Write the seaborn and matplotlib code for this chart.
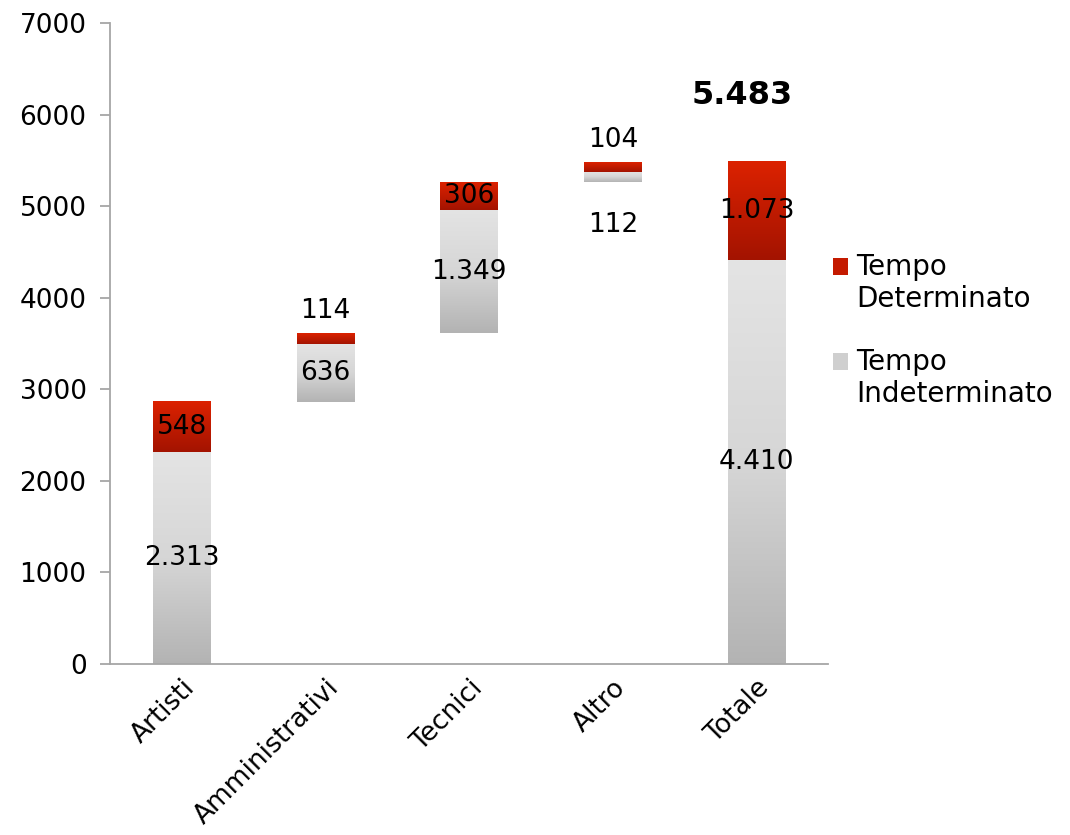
import numpy as np
import pandas as pd
import seaborn as sns
import matplotlib.pyplot as plt
from matplotlib.colors import LinearSegmentedColormap
from matplotlib.patches import Patch, Rectangle
from matplotlib.legend_handler import HandlerPatch

# dati: personale per categoria
categorie = ["Artisti", "Amministrativi", "Tecnici", "Altro", "Totale"]
indeterminato = [2313, 636, 1349, 112, 4410]
determinato = [548, 114, 306, 104, 1073]
etichette_ind = ["2.313", "636", "1.349", "112", "4.410"]
etichette_det = ["548", "114", "306", "104", "1.073"]
totale_label = "5.483"

# base a cascata (l'ultima colonna parte da zero)
base = [0]
for i in range(len(categorie) - 2):
    base.append(base[-1] + indeterminato[i] + determinato[i])
base.append(0)

df = pd.DataFrame({
    "categoria": categorie,
    "ind": indeterminato,
    "det": determinato,
    "base": base,
})
df["base_det"] = df["base"] + df["ind"]

sns.set_style("white")
plt.rcParams["font.family"] = ["DejaVu Sans"]
plt.rcParams["text.color"] = "black"
plt.rcParams["xtick.color"] = "black"
plt.rcParams["ytick.color"] = "black"

fig = plt.figure(figsize=(10.7, 8.35), dpi=100)
ax = fig.add_axes([0.103, 0.205, 0.671, 0.767])

sns.barplot(data=df, x="categoria", y="ind", bottom=df["base"].values,
            color="#cccccc", width=0.4, saturation=1, ax=ax)
sns.barplot(data=df, x="categoria", y="det", bottom=df["base_det"].values,
            color="#c01a00", width=0.4, saturation=1, ax=ax)

grey_cmap = LinearSegmentedColormap.from_list("g", ["#b3b3b3", "#d6d6d6", "#e4e4e4"])
red_cmap = LinearSegmentedColormap.from_list("r", ["#a31300", "#dc2200"])
grad = np.linspace(0, 1, 256).reshape(-1, 1)
n = len(categorie)
for i, p in enumerate(ax.patches):
    cmap = grey_cmap if i < n else red_cmap
    x0, y0 = p.get_x(), p.get_y()
    w, h = p.get_width(), p.get_height()
    ax.imshow(grad, cmap=cmap, origin="lower", aspect="auto",
              extent=[x0, x0 + w, y0, y0 + h], zorder=2)
    p.set_facecolor("none")
    p.set_edgecolor("none")

# etichette dei valori
fs = 19
for i in range(n):
    b, g, r = base[i], indeterminato[i], determinato[i]
    # grigio
    if g > 200:
        ax.text(i, b + g / 2, etichette_ind[i], ha="center", va="center", fontsize=fs, zorder=3)
    else:
        ax.annotate(etichette_ind[i], (i, b), xytext=(0, -31), textcoords="offset points",
                    ha="center", va="center", fontsize=fs, zorder=3)
    # rosso
    if r > 200:
        ax.text(i, b + g + r / 2, etichette_det[i], ha="center", va="center", fontsize=fs, zorder=3)
    else:
        ax.annotate(etichette_det[i], (i, b + g + r), xytext=(0, 16), textcoords="offset points",
                    ha="center", va="center", fontsize=fs, zorder=3)

ax.annotate(totale_label, (n - 1, indeterminato[-1] + determinato[-1]), xytext=(-10, 48),
            textcoords="offset points", ha="center", va="center",
            fontsize=23, fontweight="bold", zorder=3)

ax.set_xlim(-0.5, n - 0.5)
ax.set_ylim(0, 7000)
ax.set_yticks(range(0, 7001, 1000))
ax.set_xlabel("")
ax.set_ylabel("")

for s in ["top", "right"]:
    ax.spines[s].set_visible(False)
for s in ["left", "bottom"]:
    ax.spines[s].set_color("#a6a6a6")
    ax.spines[s].set_linewidth(1.3)

ax.set_xticks(np.arange(-0.5, n, 1.0), minor=True)
ax.tick_params(axis="x", which="major", length=0, pad=8, labelsize=fs)
ax.tick_params(axis="x", which="minor", length=7, width=1.3, color="#a6a6a6", direction="out")
ax.tick_params(axis="y", length=7, width=1.3, color="#a6a6a6", direction="out",
               labelsize=fs, pad=10, left=True)
plt.setp(ax.get_xticklabels(), rotation=45, ha="right", rotation_mode="anchor")


# quadratino della legenda allineato alla prima riga
def patch_prima_riga(legend, orig_handle, xdescent, ydescent, width, height, fontsize):
    return Rectangle((-xdescent, -ydescent + 0.65 * fontsize), width, height)


handles = [Patch(facecolor="#c41a00", edgecolor="none"),
           Patch(facecolor="#cfcfcf", edgecolor="none")]
fig.legend(handles, ["Tempo\nDeterminato", "Tempo\nIndeterminato"],
           loc="upper left", bbox_to_anchor=(0.755, 0.727), frameon=False,
           fontsize=20, handlelength=0.55, handleheight=0.55, handletextpad=0.3,
           labelspacing=1.25,
           handler_map={Patch: HandlerPatch(patch_func=patch_prima_riga)})

fig.savefig("out.png", dpi=100)
